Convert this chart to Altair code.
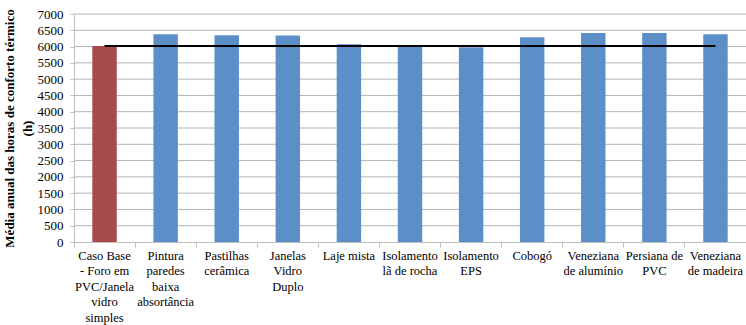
import altair as alt
import pandas as pd

categorias = [
    "Caso Base\n- Foro em\nPVC/Janela\nvidro\nsimples",
    "Pintura\nparedes\nbaixa\nabsortância",
    "Pastilhas\ncerâmica",
    "Janelas\nVidro\nDuplo",
    "Laje mista",
    "Isolamento\nlã de rocha",
    "Isolamento\nEPS",
    "Cobogó",
    "Veneziana\nde alumínio",
    "Persiana de\nPVC",
    "Veneziana\nde madeira",
]
horas = [6020, 6380, 6350, 6340, 6070, 6000, 5980, 6290, 6420, 6420, 6380]
referencia = [6020, 6020, 6020, 6020, 6020, 6020, 6020, 6020, 6020, 6020, 6020]
tipo = ["Caso base"] + ["Estratégia"] * 10
y_ticks = [0, 500, 1000, 1500, 2000, 2500, 3000, 3500, 4000, 4500, 5000, 5500, 6000, 6500, 7000]

df = pd.DataFrame({"categoria": categorias, "horas": horas, "referencia": referencia, "tipo": tipo})
grid_df = pd.DataFrame({"nivel": y_ticks[1:]})

FONT = "Liberation Serif"

x_axis = alt.Axis(
    title=None,
    labelExpr="split(datum.label, '\\n')",
    labelAngle=0,
    bandPosition=0,
    ticks=True,
    tickSize=5,
    labelFontSize=12.5,
    labelBaseline="top",
    labelLineHeight=15.5,
    labelPadding=2,
    labelOverlap=False,
    grid=False,
)

y_axis = alt.Axis(
    values=y_ticks,
    format="d",
    labelOverlap=False,
    grid=False,
    title=["Média anual das horas de conforto térmico", "(h)"],
    titleFontSize=13,
    titleFontWeight="bold",
    titleX=-71,
    titleY=114,
    titleBaseline="top",
    titleAlign="center",
    titleLineHeight=18,
    labelFontSize=13,
    labelPadding=7,
    tickSize=4,
)

x_scale = alt.Scale(paddingInner=0, paddingOuter=0)
y_scale = alt.Scale(domain=[0, 7000])

grid = alt.Chart(grid_df).mark_rule(color="#b4b4b4", strokeWidth=1).encode(
    y=alt.Y("nivel:Q", scale=y_scale, axis=y_axis),
)

bars = alt.Chart(df).mark_bar(width=alt.RelativeBandSize(0.4)).encode(
    x=alt.X("categoria:N", sort=categorias, scale=x_scale, axis=x_axis),
    y=alt.Y("horas:Q", scale=y_scale, axis=y_axis),
    color=alt.Color(
        "tipo:N",
        scale=alt.Scale(domain=["Caso base", "Estratégia"], range=["#a64b4a", "#5c8fc8"]),
        legend=None,
    ),
)

line = alt.Chart(df).mark_line(color="black", strokeWidth=2).encode(
    x=alt.X("categoria:N", sort=categorias, scale=x_scale, axis=x_axis),
    y=alt.Y("referencia:Q", scale=y_scale, axis=y_axis),
)

chart = (
    alt.layer(grid, bars, line)
    .properties(
        width=672,
        height=228,
        autosize=alt.AutoSizeParams(type="none"),
        padding={"left": 74, "top": 14, "right": 0, "bottom": 83},
    )
    .configure_view(stroke=None)
    .configure_axis(
        labelFont=FONT,
        titleFont=FONT,
        labelColor="black",
        titleColor="black",
        tickColor="#bfbfbf",
        domainColor="#bfbfbf",
    )
)

chart.save("out.html", embed_options={"renderer": "svg", "actions": False})
